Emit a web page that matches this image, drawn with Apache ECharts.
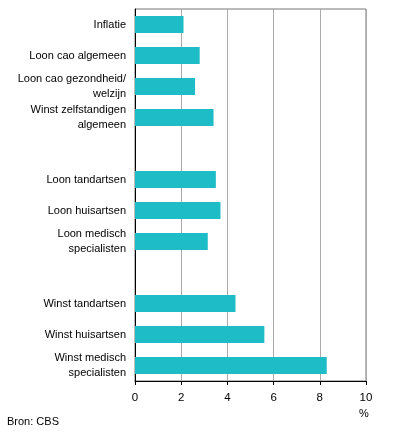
<!DOCTYPE html>
<html>
<head>
<meta charset="utf-8">
<script src="https://cdn.jsdelivr.net/npm/echarts@6/dist/echarts.min.js"></script>
<style>html,body{margin:0;padding:0;background:#fff}#c{width:396px;height:433px}</style>
</head>
<body>
<div id="c"></div>
<script>
var categories = ['Inflatie', 'Loon cao algemeen', 'Loon cao gezondheid/\nwelzijn', 'Winst zelfstandigen\nalgemeen', '', 'Loon tandartsen', 'Loon huisartsen', 'Loon medisch\nspecialisten', ' ', 'Winst tandartsen', 'Winst huisartsen', 'Winst medisch\nspecialisten'];
var values = [2.1, 2.8, 2.6, 3.4, '-', 3.5, 3.7, 3.15, '-', 4.35, 5.6, 8.3];
var xTicks = [0, 2, 4, 6, 8, 10];

var chart = echarts.init(document.getElementById('c'));
chart.setOption({
  animation: false,
  grid: {left: 135, right: 30, top: 9, bottom: 52, show: true, borderColor: '#777', borderWidth: 1},
  xAxis: {
    type: 'value', min: xTicks[0], max: xTicks[xTicks.length - 1], interval: 2,
    axisLine: {show: true, lineStyle: {color: '#000', width: 1}},
    axisTick: {show: true, length: 4, lineStyle: {color: '#000'}},
    axisLabel: {color: '#000', fontFamily: 'Liberation Sans, Arial', fontSize: 11.5, margin: 11},
    splitLine: {show: true, lineStyle: {color: '#aaa', width: 1}}
  },
  yAxis: {
    type: 'category', data: categories, inverse: true,
    axisLine: {show: true, lineStyle: {color: '#000', width: 1}},
    axisTick: {show: false},
    axisLabel: {color: '#000', fontFamily: 'Liberation Sans, Arial', fontSize: 11, margin: 9, lineHeight: 15, align: 'right'},
    splitLine: {show: false}
  },
  series: [{
    type: 'bar', data: values, barCategoryGap: '45%',
    itemStyle: {color: '#1EBCC6'}
  }],
  graphic: [
    {type: 'text', left: 359, top: 408, style: {text: '%', fill: '#000', font: '11px Liberation Sans, Arial'}},
    {type: 'text', left: 7, top: 416, style: {text: 'Bron: CBS', fill: '#000', font: '11px Liberation Sans, Arial'}}
  ]
});
</script>
</body>
</html>
